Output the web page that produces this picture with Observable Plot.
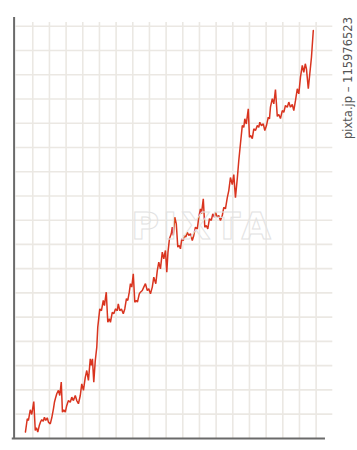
<!DOCTYPE html>
<html>
<head>
<meta charset="utf-8">
<script src="https://cdn.jsdelivr.net/npm/d3@7"></script>
<script src="https://cdn.jsdelivr.net/npm/@observablehq/plot@0.6"></script>
<style>
  html, body { margin: 0; padding: 0; background: #fff; }
  #wrap { position: relative; width: 357px; height: 450px; overflow: hidden; }
  #chart { position: absolute; left: 0; top: 0; }
  .credit { position: absolute; left: 348px; top: 78px; transform: translate(-50%, -50%) rotate(-90deg);
    white-space: nowrap; font-family: "DejaVu Sans", sans-serif; font-size: 11.5px; color: #555; }
  .mark { position: absolute; left: 203px; top: 226px; transform: translate(-50%, -50%);
    font-family: "DejaVu Sans", sans-serif; font-weight: bold; font-size: 38px; letter-spacing: 4px;
    color: transparent; -webkit-text-stroke: 1px #e2e2e2; white-space: nowrap; }
</style>
</head>
<body>
<div id="wrap">
  <div id="chart"></div>
  <div class="mark">PIXTA</div>
  <div class="credit">pixta.jp – 115976523</div>
</div>
<script>
const period = [
  5.6,6.7,7.4,8.5,9.4,10.6,11.5,12.2,13.0,13.9,14.6,15.4,16.3,17.0,17.8,18.7,19.4,20.5,21.4,22.4,
  23.0,23.8,24.4,25.4,26.2,27.1,27.8,28.6,29.5,30.4,31.4,32.5,33.4,34.4,35.5,36.4,37.4,38.5,39.4,40.4,
  41.5,42.4,43.4,44.5,45.1,45.8,46.6,47.5,48.4,49.0,50.2,
  51.2,52.3,53.0,54.1,55.0,55.9,56.6,57.7,58.6,59.6,60.7,61.3,62.2,63.2,64.3,65.2,66.2,67.0,67.9,68.6,
  69.4,70.3,71.2,72.1,72.8,73.9,74.6,75.7,76.6,77.6,78.7,79.6,80.6,81.7,82.6,83.8,84.7,85.6,86.6,87.7,
  88.6,89.6,90.4,91.1,
  92.0,93.1,93.7,94.3,95.2,96.1,97.0,97.9,98.6,99.4,100.3,101.0,101.8,102.7,103.6,104.6,105.7,106.6,107.6,108.7,
  109.6,110.6,111.2,112.3,113.2,114.1,115.0,116.0,117.1,118.0,119.0,119.6,120.7,121.6,122.6,123.7,124.6,125.6,
  126.7,127.6,128.6,129.7,130.6,131.6,132.7,133.6,134.6,135.7,136.6,137.2,138.1,139.3,140.0,140.8,141.7,142.6,143.6,144.7,
  145.6,146.2,147.2,148.3,149.2,150.2,151.3,152.0,152.6,153.7,154.6,155.6,156.7,157.6,158.6,159.7,160.6,161.6,162.7,163.6,
  164.6,165.7,166.6,167.6,168.7,169.6,170.6,171.7,172.6,173.5,174.2,175.3,176.2,177.2,178.3
];
const price = [
  2.6,8.1,7.4,11.8,9.9,15.2,3.3,4.4,2.6,5.3,6.7,7.7,7.1,8.7,7.4,8.5,6.7,6.0,8.5,12.2,
  14.9,17.0,18.4,19.8,17.7,23.2,10.8,11.8,10.8,13.6,15.6,14.9,17.0,15.6,17.7,15.6,14.3,17.7,22.5,19.8,
  25.2,28.0,23.9,32.8,30.1,32.8,23.2,32.1,37.6,45.9,53.4,
  52.7,56.9,54.8,60.3,47.9,49.3,47.9,52.0,51.4,53.4,52.7,55.5,52.7,53.4,51.4,53.4,57.6,56.9,60.3,63.8,
  62.4,67.9,56.2,56.9,56.2,59.6,60.3,61.0,62.4,63.8,61.0,61.7,59.6,62.4,66.5,63.8,69.2,72.7,69.9,76.8,
  74.1,77.5,68.5,76.7,
  82.3,84.4,87.1,83.7,91.2,88.5,78.9,79.6,78.2,82.3,81.6,83.7,83.0,85.0,83.7,84.4,81.6,83.7,87.1,86.4,
  91.2,94.7,92.6,98.8,87.1,87.8,86.4,90.6,89.9,92.6,91.2,93.3,91.2,91.9,89.9,91.9,95.3,94.7,
  99.3,102.2,107.6,104.7,108.8,99.3,107.2,114.6,121.5,129.0,128.3,131.8,129.7,135.9,124.2,124.9,123.6,127.7,127.0,129.0,
  128.3,130.4,129.0,129.7,127.0,129.0,132.5,131.8,136.6,140.1,138.0,143.9,132.8,133.6,131.9,135.2,134.5,137.3,136.6,138.7,
  136.6,137.7,135.2,139.3,144.2,142.1,149.0,153.8,151.0,154.5,152.4,144.2,150.4,157.2,168.2
];
const xGrid = d3.range(10, 181, 10);
const yGrid = d3.range(10, 171, 10);

const data = period.map((p, i) => ({period: p, price: price[i]}));

const chart = Plot.plot({
  width: 357,
  height: 450,
  marginLeft: 15.6,
  marginRight: 24.7,
  marginTop: 25.7,
  marginBottom: 12.1,
  x: {domain: [0, 190], axis: null},
  y: {domain: [0, 170], axis: null},
  style: {background: "transparent"},
  marks: [
    Plot.ruleY(yGrid, {x1: 0, x2: 190, stroke: "#ebe8e3", strokeWidth: 1.6}),
    Plot.ruleX(xGrid, {y1: 0, y2: 171.5, stroke: "#ebe8e3", strokeWidth: 1.6}),
    Plot.line(data, {x: "period", y: "price", stroke: "#d9341f", strokeWidth: 1.5, strokeLinejoin: "miter"}),
    Plot.ruleX([0], {y1: -0.3, y2: 173.6, stroke: "#6a6a6a", strokeWidth: 2, dx: -2}),
    Plot.ruleY([0], {x1: -2.3, x2: 185.6, stroke: "#6a6a6a", strokeWidth: 2})
  ]
});
document.getElementById("chart").appendChild(chart);
</script>
</body>
</html>
